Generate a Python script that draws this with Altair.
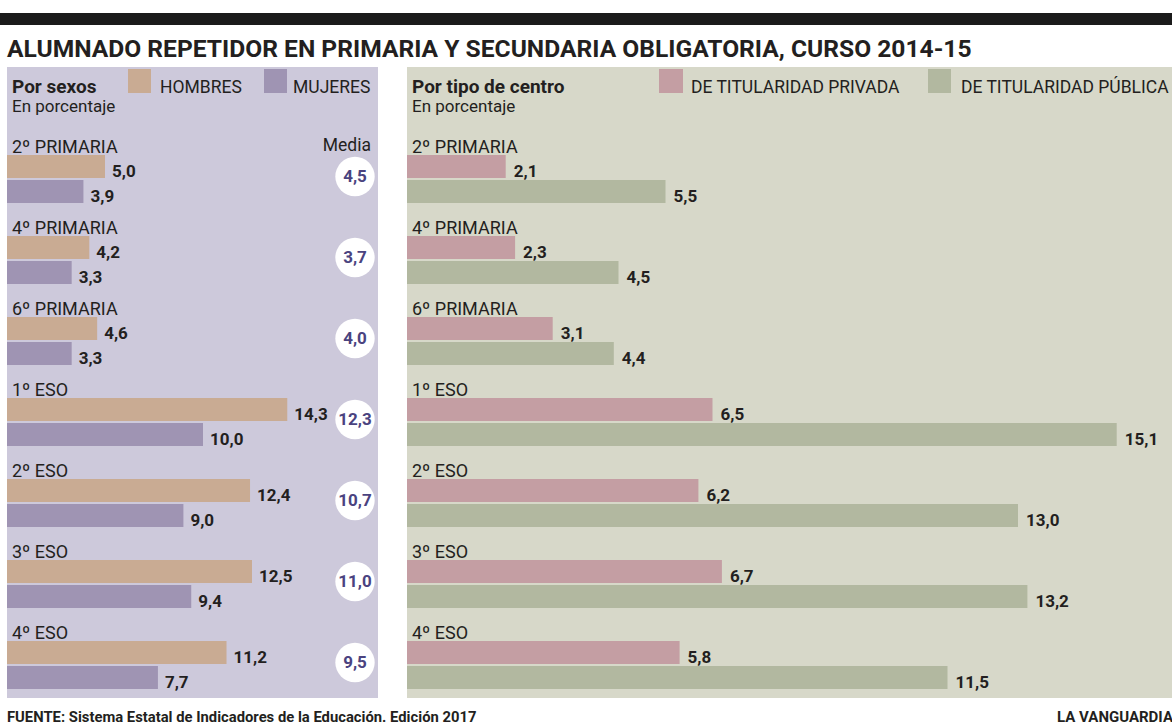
import altair as alt
import pandas as pd

# ---------------- data ----------------
stages = ["2º PRIMARIA", "4º PRIMARIA", "6º PRIMARIA", "1º ESO", "2º ESO", "3º ESO", "4º ESO"]
hombres = [5.0, 4.2, 4.6, 14.3, 12.4, 12.5, 11.2]
mujeres = [3.9, 3.3, 3.3, 10.0, 9.0, 9.4, 7.7]
media = [4.5, 3.7, 4.0, 12.3, 10.7, 11.0, 9.5]
privada = [2.1, 2.3, 3.1, 6.5, 6.2, 6.7, 5.8]
publica = [5.5, 4.5, 4.4, 15.1, 13.0, 13.2, 11.5]

sex_series = ["HOMBRES", "MUJERES"]
centro_series = ["DE TITULARIDAD PRIVADA", "DE TITULARIDAD PÚBLICA"]

title_text = "ALUMNADO REPETIDOR EN PRIMARIA Y SECUNDARIA OBLIGATORIA, CURSO 2014-15"
source_text = "FUENTE: Sistema Estatal de Indicadores de la Educación. Edición 2017"
brand_text = "LA VANGUARDIA"


def fmt(v):
    return f"{v:.1f}".replace(".", ",")


sex_df = pd.DataFrame({
    "etapa": stages * 2,
    "serie": [sex_series[0]] * len(stages) + [sex_series[1]] * len(stages),
    "valor": hombres + mujeres,
})
sex_df["txt"] = sex_df["valor"].map(fmt)

centro_df = pd.DataFrame({
    "etapa": stages * 2,
    "serie": [centro_series[0]] * len(stages) + [centro_series[1]] * len(stages),
    "valor": privada + publica,
})
centro_df["txt"] = centro_df["valor"].map(fmt)

media_df = pd.DataFrame({"etapa": stages, "media": media})
media_df["txt"] = media_df["media"].map(fmt)

stage_df = pd.DataFrame({"etapa": stages})
one = pd.DataFrame({"k": [0]})

# ---------------- style ----------------
FONT = "Roboto"
TXT = "#231f20"
C_H, C_M = "#c9ab93", "#9f94b3"
C_PRIV, C_PUB = "#c49ea3", "#b2b8a0"
BG_L, BG_R = "#cdc9db", "#d7d8c9"
MEDIA_C = "#4a437f"

Y = alt.Y("etapa:N", scale=alt.Scale(domain=stages, range=[130, 697], paddingInner=0, paddingOuter=0), axis=None)


def yoff(domain):
    return alt.YOffset("serie:N", scale=alt.Scale(type="band", domain=domain, paddingInner=0.08,
                                                  paddingOuter=0.66, align=0.76))


XL = alt.X("valor:Q", scale=alt.Scale(domain=[0, 15], range=[7, 7 + 15 * 19.6]), axis=None)
XR = alt.X("valor:Q", scale=alt.Scale(domain=[0, 16], range=[407, 407 + 16 * 47]), axis=None)

color_all = alt.Color("serie:N", scale=alt.Scale(domain=sex_series + centro_series,
                                                 range=[C_H, C_M, C_PRIV, C_PUB]), legend=None)


def rect(x1, x2, y1, y2, fill):
    return alt.Chart(one).mark_rect(color=fill).encode(
        x=alt.value(x1), x2=alt.value(x2), y=alt.value(y1), y2=alt.value(y2))


def label(text, x, y, size=16, weight="normal", align="left", color=TXT, baseline="alphabetic"):
    return alt.Chart(one).mark_text(text=text, font=FONT, fontSize=size, fontWeight=weight,
                                    align=align, baseline=baseline, color=color).encode(
        x=alt.value(x), y=alt.value(y))


layers = []
# top black band and title
layers.append(rect(0, 1172, 13, 25, "#1b1b1b"))
layers.append(label(title_text, 7, 57, size=24.6, weight="bold"))

# panels
layers.append(rect(7, 378, 67, 698, BG_L))
layers.append(rect(407, 1172, 67, 698, BG_R))

# legends
layers.append(label("Por sexos", 12, 93, size=19, weight="bold"))
layers.append(label("En porcentaje", 12, 112, size=17))
layers.append(rect(128, 151, 69, 93, C_H))
layers.append(label("HOMBRES", 160, 93, size=17.5))
layers.append(rect(264, 287, 69, 93, C_M))
layers.append(label("MUJERES", 293, 93, size=17.5))

layers.append(label("Por tipo de centro", 412, 93, size=19, weight="bold"))
layers.append(label("En porcentaje", 412, 112, size=17))
layers.append(rect(659, 683, 69, 93, C_PRIV))
layers.append(label("DE TITULARIDAD PRIVADA", 691, 93, size=17.5))
layers.append(rect(928, 951, 69, 93, C_PUB))
layers.append(label("DE TITULARIDAD PÚBLICA", 961, 93, size=17.5))

layers.append(label("Media", 371, 151, size=17.5, align="right"))

# left bars
left_bars = alt.Chart(sex_df).mark_bar().encode(x=XL, y=Y, yOffset=yoff(sex_series), color=color_all)
left_vals = alt.Chart(sex_df).mark_text(align="left", baseline="alphabetic", dx=7, dy=10,
                                        font=FONT, fontSize=17, fontWeight="bold", color=TXT).encode(
    x=XL, y=Y, yOffset=yoff(sex_series), text="txt:N")
left_stage = alt.Chart(stage_df).mark_text(align="left", baseline="alphabetic", dy=-18,
                                           font=FONT, fontSize=18, color=TXT).encode(
    x=alt.value(12), y=Y, text="etapa:N")

media_circ = alt.Chart(media_df).mark_circle(size=1550, opacity=1, color="white", yOffset=6).encode(
    x=alt.value(355), y=Y)
media_txt = alt.Chart(media_df).mark_text(align="center", baseline="middle", dy=6, font=FONT,
                                          fontSize=17, fontWeight="bold", color=MEDIA_C).encode(
    x=alt.value(355), y=Y, text="txt:N")

# right bars
right_bars = alt.Chart(centro_df).mark_bar().encode(x=XR, y=Y, yOffset=yoff(centro_series), color=color_all)
right_vals = alt.Chart(centro_df).mark_text(align="left", baseline="alphabetic", dx=8, dy=10,
                                            font=FONT, fontSize=17, fontWeight="bold", color=TXT).encode(
    x=XR, y=Y, yOffset=yoff(centro_series), text="txt:N")
right_stage = alt.Chart(stage_df).mark_text(align="left", baseline="alphabetic", dy=-18,
                                            font=FONT, fontSize=18, color=TXT).encode(
    x=alt.value(412), y=Y, text="etapa:N")

layers += [left_bars, left_vals, left_stage, media_circ, media_txt, right_bars, right_vals, right_stage]

# footer
layers.append(label(source_text, 7, 722, size=14.8, weight="bold"))
layers.append(label(brand_text, 1057, 722, size=15, weight="bold"))

chart = alt.layer(*layers).resolve_scale(
    x="independent", yOffset="independent"
).properties(
    width=1172, height=727, padding=0, autosize="none", background="white"
).configure_view(stroke=None)

chart.save("out.html", embed_options={"renderer": "svg", "actions": False})
